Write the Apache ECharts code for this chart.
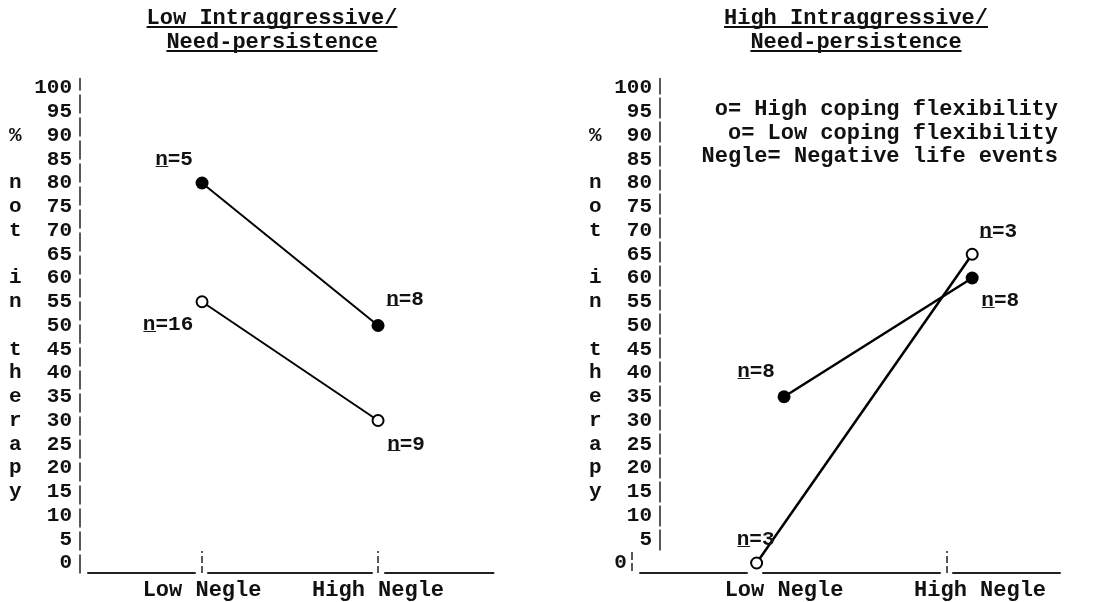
<!DOCTYPE html>
<html>
<head>
<meta charset="utf-8">
<script src="https://cdn.jsdelivr.net/npm/echarts@6/dist/echarts.min.js"></script>
<style>
    html, body { margin: 0; background: #fff; }
    #main { width: 1109px; height: 602px; }
</style>
</head>
<body>
<div id="main"></div>
<script type="text/javascript">
    // categories + tick labels
    var categories = ['Low Negle', 'High Negle'];
    var yTicks = [0, 5, 10, 15, 20, 25, 30, 35, 40, 45, 50, 55, 60, 65, 70, 75, 80, 85, 90, 95, 100];
    // letters of the vertical axis title, one per row from 90 down to 15
    var yTitle = ['%', '', 'n', 'o', 't', '', 'i', 'n', '', 't', 'h', 'e', 'r', 'a', 'p', 'y'];
    var panelTitles = [['Low Intraggressive/', 'Need-persistence'], ['High Intraggressive/', 'Need-persistence']];
    var legendLines = ['o= High coping flexibility', 'o= Low coping flexibility', 'Negle= Negative life events'];
    var seriesNames = ['High coping flexibility', 'Low coping flexibility'];

    // left panel (low intraggressive)
    var leftX = [1, 2];
    var leftHighY = [80, 50];
    var leftHighN = [5, 8];
    var leftLowY = [55, 30];
    var leftLowN = [16, 9];

    // right panel (high intraggressive)
    var rightHighX = [1, 1.96];
    var rightHighY = [35, 60];
    var rightHighN = [8, 8];
    var rightLowX = [0.86, 1.96];
    var rightLowY = [0, 65];
    var rightLowN = [3, 3];

    var FONT = '"Liberation Mono", "DejaVu Sans Mono", monospace';
    var INK = '#111';
    var CH = 13.2; // char width of 22px mono

    function yLabel(v, shiftZero) {
        var i = (90 - v) / 5;
        var letter = (i >= 0 && i < yTitle.length) ? yTitle[i] : '';
        if (!letter) letter = ' ';
        var s = String(v);
        while (s.length < 3) s = ' ' + s;
        if (shiftZero && v === 0) return '0  ';
        return letter + ' ' + s;
    }

    function yAxisCfg(idx, offset, dash, shiftZero) {
        return {
            type: 'value', gridIndex: idx, min: -2.1, max: 102, offset: offset,
            splitLine: { show: false },
            axisTick: { show: false },
            axisLine: { show: true, onZero: false, lineStyle: { color: '#222', width: 1.5, type: dash } },
            axisLabel: {
                customValues: yTicks, margin: 8,
                fontFamily: FONT, fontSize: 21, fontWeight: 'bold', color: INK,
                formatter: function (v) { return yLabel(v, shiftZero); }
            }
        };
    }

    function xAxisCfg(idx, min, max, ticks, dash) {
        return {
            type: 'value', gridIndex: idx, min: min, max: max,
            splitLine: { show: false },
            axisLine: { show: true, onZero: false, lineStyle: { color: '#222', width: 2, type: dash } },
            axisTick: { customValues: ticks, inside: true, length: 22, lineStyle: { color: '#222', width: 1.5, type: [7, 3] } },
            axisLabel: {
                customValues: [1, 2], margin: 6,
                fontFamily: FONT, fontSize: 22, fontWeight: 'bold', color: INK,
                formatter: function (v) { return categories[Math.round(v) - 1]; }
            }
        };
    }

    function lineSeries(name, idx, xs, ys, ns, filled, offs, width) {
        return {
            name: name, type: 'line', xAxisIndex: idx, yAxisIndex: idx,
            symbol: 'circle', symbolSize: filled ? 13 : 11,
            itemStyle: filled ? { color: '#000' } : { color: '#fff', borderColor: '#000', borderWidth: 2 },
            lineStyle: { color: '#000', width: width },
            data: ys.map(function (y, i) {
                return { value: [xs[i], y], label: { offset: offs[i] } };
            }),
            label: {
                show: true, position: 'inside', color: INK,
                fontFamily: FONT, fontSize: 21, fontWeight: 'bold',
                formatter: function (p) { return 'n\u0332=' + ns[p.dataIndex]; }
            },
            z: 3
        };
    }

    // dashed right y axis starts a bit above zero
    var rightYDash = [0, 23];
    for (var k = 0; k < 25; k++) rightYDash.push(20, 4);

    var graphics = [];
    var titleCenters = [272, 856];
    panelTitles.forEach(function (lines, p) {
        graphics.push({
            type: 'text', x: titleCenters[p], y: 6,
            style: { text: lines.join('\n'), align: 'center', fill: INK, font: 'bold 22px ' + FONT, lineHeight: 24 }
        });
        lines.forEach(function (t, j) {
            var w = t.length * CH;
            graphics.push({
                type: 'line',
                shape: { x1: titleCenters[p] - w / 2, y1: 27 + j * 24, x2: titleCenters[p] + w / 2, y2: 27 + j * 24 },
                style: { stroke: INK, lineWidth: 2 }
            });
        });
    });
    graphics.push({
        type: 'text', x: 1058, y: 98,
        style: { text: legendLines.join('\n'), align: 'right', fill: INK, font: 'bold 22px ' + FONT, lineHeight: 23.5 }
    });
    // typed stub of the axis next to the shifted zero row (right panel)
    graphics.push({
        type: 'line',
        shape: { x1: 632, y1: 552, x2: 632, y2: 574 },
        style: { stroke: '#222', lineWidth: 1.5, lineDash: [8, 3] }
    });

    var myChart = echarts.init(document.getElementById('main'));
    var option = {
        backgroundColor: '#fff',
        animation: false,
        grid: [
            { left: 88, top: 78.5, width: 405.5, height: 494.5 },
            { left: 640, top: 78.5, width: 420, height: 494.5 }
        ],
        xAxis: [
            xAxisCfg(0, 0.352, 2.656, [1, 2], [107, 13, 164, 13, 120, 50]),
            xAxisCfg(1, 0.265, 2.408, [1.83], [107, 16, 177, 13, 120, 50])
        ],
        yAxis: [
            yAxisCfg(0, 8, [18, 5], false),
            yAxisCfg(1, -20, rightYDash, true)
        ],
        graphic: graphics,
        series: [
            lineSeries(seriesNames[0], 0, leftX, leftHighY, leftHighN, true, [[-28, -23], [27, -26]], 2),
            lineSeries(seriesNames[1], 0, leftX, leftLowY, leftLowN, false, [[-34, 23], [28, 24]], 2),
            lineSeries(seriesNames[0], 1, rightHighX, rightHighY, rightHighN, true, [[-28, -25], [28, 23]], 2.5),
            lineSeries(seriesNames[1], 1, rightLowX, rightLowY, rightLowN, false, [[-1, -23], [26, -23]], 2.5)
        ]
    };
    myChart.setOption(option);
</script>
</body>
</html>
